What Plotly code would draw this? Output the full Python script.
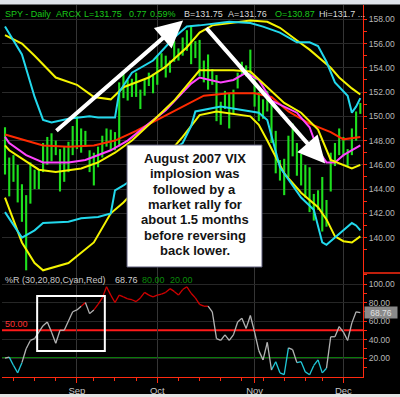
import plotly.graph_objects as go

W, H = 400, 397

# ---------------- data ----------------
month_idx = [17, 36, 59, 80]
month_lbl = ["Sep", "Oct", "Nov", "Dec"]
week_idx = [2, 7, 12, 17, 21, 26, 31, 36, 41, 46, 51, 56, 61, 66, 71, 75, 80]

bar_high = [149.1, 146.6, 146.8, 146.0, 144.4, 143.5, 146.2, 145.6, 145.6, 147.8,
            148.3, 148.6, 148.0, 147.3, 147.5, 147.9, 149.2, 150.0, 149.0, 148.8,
            147.2, 147.0, 147.5, 148.4, 149.0, 148.9, 148.7, 152.8, 153.6, 153.0,
            153.1, 153.6, 152.2, 153.0, 153.6, 153.5, 155.0, 155.2, 155.0, 154.6,
            156.2, 155.6, 156.5, 157.1, 157.5, 156.2, 156.3, 154.6, 155.1, 153.9,
            153.4, 151.2, 152.1, 151.9, 152.2, 153.6, 154.5, 154.2, 155.5, 153.4,
            152.0, 151.4, 152.1, 151.0, 148.8, 146.4, 146.5, 148.4, 149.4, 147.8,
            146.9, 146.0, 145.8, 143.6, 143.9, 145.0, 143.1, 147.0, 147.8, 149.0,
            148.3, 147.3, 149.0, 150.4, 151.1]
bar_low = [145.2, 143.4, 144.6, 142.9, 141.3, 137.3, 142.8, 144.0, 144.0, 145.4,
           146.0, 146.3, 146.8, 143.8, 144.6, 145.4, 146.8, 147.3, 147.0, 147.5,
           145.4, 144.3, 145.8, 146.6, 147.5, 147.2, 147.2, 147.5, 151.5, 151.3,
           151.6, 151.6, 150.6, 151.7, 152.5, 151.9, 152.6, 154.0, 153.2, 153.6,
           154.5, 154.6, 155.0, 155.4, 154.3, 154.8, 153.3, 152.8, 152.2, 152.6,
           149.6, 149.3, 150.6, 149.0, 150.2, 152.3, 153.4, 153.3, 153.0, 150.8,
           149.6, 149.8, 150.4, 147.8, 145.3, 144.7, 143.5, 145.0, 146.7, 145.1,
           144.3, 143.3, 142.1, 141.4, 142.3, 140.5, 140.9, 143.8, 145.9, 146.8,
           146.7, 145.9, 146.8, 148.0, 150.2]

cyan_up_i = [0, 4, 7, 9, 11, 15, 20, 22, 26, 27, 30, 35, 40, 43, 46, 53, 58, 61, 65, 69, 72, 74, 76, 78, 81, 82, 83, 84]
cyan_up_v = [157.4, 155.1, 151.6, 149.7, 149.5, 149.8, 150.0, 149.9, 149.9, 152.0, 153.6, 154.6, 156.5, 157.4,
             157.5, 157.8, 157.7, 157.4, 156.9, 156.1, 156.1, 155.8, 154.5, 152.8, 151.7, 150.3, 150.8, 151.5]
cyan_lo_i = [0, 4, 7, 9, 15, 18, 22, 25, 26, 28, 35, 42, 44, 45, 51, 56, 60, 62, 65, 70, 73, 75, 76, 78, 80, 82, 83, 84]
cyan_lo_v = [142.1, 140.0, 140.6, 141.2, 141.3, 141.6, 141.7, 142.0, 143.9, 144.3, 146.0, 147.8, 149.2, 150.4,
             150.8, 150.5, 150.3, 149.7, 145.8, 143.3, 142.3, 139.6, 139.4, 140.0, 140.6, 141.2, 141.0, 140.6]
yel_up_i = [0, 4, 7, 12, 17, 21, 25, 28, 34, 38, 43, 46, 49, 54, 58, 62, 65, 70, 72, 77, 79, 82, 84]
yel_up_v = [156.7, 156.0, 155.0, 153.2, 152.6, 151.6, 151.4, 152.4, 153.2, 154.1, 155.7, 156.9, 157.5, 157.7,
            157.9, 157.8, 157.3, 156.0, 155.5, 154.0, 153.2, 152.3, 151.8]
yel_lo_i = [0, 4, 7, 9, 15, 21, 25, 28, 35, 42, 46, 50, 58, 60, 62, 66, 70, 74, 76, 78, 80, 82, 84]
yel_lo_v = [143.3, 139.6, 137.9, 137.3, 137.9, 139.6, 142.0, 142.9, 145.5, 148.3, 150.1, 150.4, 150.0, 149.3,
            148.0, 145.3, 143.7, 142.5, 141.5, 140.1, 139.7, 139.6, 140.1]
mag_i = [0, 1, 5, 9, 15, 19, 25, 29, 34, 38, 44, 46, 51, 54, 57, 60, 63, 69, 72, 74, 76, 78, 80, 84]
mag_v = [148.3, 147.8, 146.8, 146.2, 146.2, 146.4, 147.2, 148.0, 149.4, 150.5, 152.7, 153.2, 152.8, 153.0,
         153.6, 153.0, 151.3, 150.3, 149.1, 147.2, 146.2, 146.2, 146.8, 147.6]
yma_i = [0, 1, 8, 12, 18, 22, 26, 30, 34, 40, 46, 54, 58, 62, 66, 70, 74, 77, 82, 84]
yma_v = [147.6, 147.2, 145.6, 145.4, 145.7, 146.2, 147.0, 148.0, 149.3, 151.3, 153.8, 153.8, 153.7, 152.4,
         151.1, 150.3, 148.9, 146.4, 145.7, 146.0]
red_i = [0, 5, 9, 15, 21, 26, 31, 37, 43, 47, 53, 59, 63, 67, 72, 77, 80, 84]
red_v = [148.5, 148.0, 147.6, 147.5, 147.6, 148.0, 148.8, 149.9, 151.0, 151.7, 151.9, 151.9, 151.6, 150.4,
         149.4, 148.7, 148.1, 148.3]

pct_r = [20, 21, 12, 4, 15, 30, 39, 41, 48, 55, 59, 48, 36, 50, 50, 60, 70, 72, 76, 80,
         68, 72, 78, 85, 97, 88, 80, 88, 86, 84, 83, 81, 85, 91, 88, 86, 88, 89, 91, 95,
         92, 88, 94, 97, 90, 85, 78, 76, 76, 70, 41, 39, 45, 39, 45, 59, 63, 52, 66, 48,
         28, 18, 37, 7, 16, 4, 2, 31, 29, 15, 16, 5, 2, 12, 18, 4, 9, 43, 43, 54,
         48, 39, 58, 70, 69]
pct_last = "68.76"

price_ticks = [140, 142, 144, 146, 148, 150, 152, 154, 156, 158]
pct_ticks = [20, 40, 60, 80, 100]

header = [("SPY - Daily", 3, "#19c819"), ("ARCX", 54, "#19c819"), ("L=131.75", 82, "#19c819"),
          ("0.77", 127, "#19c819"), ("0.59%", 148, "#19c819"), ("B=131.75", 182, "#d8d8d8"),
          ("A=131.76", 226, "#d8d8d8"), ("O=130.87", 273, "#19c819"), ("Hi=131.7 ...", 317, "#d8d8d8")]
note_lines = ["August 2007 VIX", "implosion was", "followed by a", "market rally for",
              "about 1.5 months", "before reversing", "back lower."]

# ---------------- styles / layout constants ----------------
FONT = "Liberation Sans, Arial, sans-serif"
RED = "#ff2a10"
X0, X1 = 2, 363          # plot left/right px
PY0, PY1 = 5, 273        # price panel top/bottom px
RY1 = 377                # %R bottom px


def px(x):
    return x / W


def py(y):
    return 1 - y / H


fig = go.Figure()

fig.add_trace(go.Bar(x=list(range(len(bar_high))), base=bar_low,
                     y=[h - l for h, l in zip(bar_high, bar_low)],
                     width=0.5, marker=dict(color="#1ee01e", line=dict(width=0)),
                     xaxis="x", yaxis="y", hoverinfo="skip"))

for xi, yv, col in [(red_i, red_v, "#ff2a00"), (mag_i, mag_v, "#ff44ff"), (yma_i, yma_v, "#f4f400"),
                    (yel_up_i, yel_up_v, "#f4f400"), (yel_lo_i, yel_lo_v, "#f4f400"),
                    (cyan_up_i, cyan_up_v, "#22d8ec"), (cyan_lo_i, cyan_lo_v, "#22d8ec")]:
    fig.add_trace(go.Scatter(x=xi, y=yv, mode="lines", line=dict(color=col, width=2),
                             xaxis="x", yaxis="y", hoverinfo="skip"))

# %R line, coloured by zone
seg = {"#d00000": ([], []), "#20c8d8": ([], []), "#b4b4b4": ([], [])}
for k in range(len(pct_r) - 1):
    a, b = pct_r[k], pct_r[k + 1]
    m = (a + b) / 2
    c = "#d00000" if m >= 75 else ("#20c8d8" if m <= 17 else "#b4b4b4")
    seg[c][0].extend([k, k + 1, None])
    seg[c][1].extend([a, b, None])
for c, (sx, sy) in seg.items():
    fig.add_trace(go.Scatter(x=sx, y=sy, mode="lines", line=dict(color=c, width=1.3),
                             xaxis="x", yaxis="y2", hoverinfo="skip"))

tickfont = dict(family=FONT, size=8.5, color="#b8b8b8")
fig.update_layout(
    width=W, height=H, margin=dict(l=0, r=0, t=0, b=0),
    paper_bgcolor="black", plot_bgcolor="black", showlegend=False,
    xaxis=dict(domain=[px(X0), px(X1)], range=[-0.71, 84.63], anchor="y2",
               tickvals=month_idx, ticktext=month_lbl, ticks="outside", ticklen=5,
               tickcolor=RED, showline=True, linecolor=RED, linewidth=1,
               showgrid=True, gridcolor="#353535", zeroline=False,
               tickfont=dict(family=FONT, size=9.5, color="#c8c8c8"),
               minor=dict(tickvals=week_idx, ticks="outside", ticklen=3, tickcolor=RED, showgrid=False)),
    yaxis=dict(domain=[1 - PY1 / H, 1 - PY0 / H], range=[137.08, 159.18], anchor="x", side="right",
               tickvals=price_ticks, tickformat=".2f", ticks="outside", ticklen=3, tickcolor=RED,
               showline=True, linecolor=RED, linewidth=1, showgrid=True, gridcolor="#2a2a2a",
               zeroline=False, tickfont=tickfont,
               minor=dict(tickvals=[t + 1 for t in price_ticks[:-1]] + [139], ticks="outside",
                          ticklen=3, tickcolor=RED, showgrid=False)),
    yaxis2=dict(domain=[1 - RY1 / H, 1 - PY1 / H], range=[-0.5, 111.9], anchor="x", side="right",
                tickvals=pct_ticks, tickformat=".2f", ticks="outside", ticklen=3, tickcolor=RED,
                showline=True, linecolor=RED, linewidth=1, showgrid=True, gridcolor="#262626",
                zeroline=False, tickfont=tickfont,
                minor=dict(tickvals=[10, 30, 50, 70, 90, 110], ticks="outside", ticklen=3,
                           tickcolor=RED, showgrid=False)),
)

shapes = [
    dict(type="rect", xref="paper", yref="paper", x0=0, x1=1, y0=py(4.5), y1=1,
         fillcolor="#dfe3ea", line=dict(width=0), layer="above"),
    dict(type="rect", xref="paper", yref="paper", x0=0, x1=1, y0=0, y1=py(394),
         fillcolor="#e4e4e4", line=dict(width=0), layer="above"),
    dict(type="line", xref="paper", yref="paper", x0=px(X1), x1=1, y0=py(PY1), y1=py(PY1),
         line=dict(color=RED, width=1.5)),
    dict(type="line", xref="paper", yref="y2", x0=px(X0), x1=px(X1), y0=80, y1=80,
         line=dict(color="#0a7a0a", width=1, dash="dot"), layer="below"),
    dict(type="line", xref="paper", yref="y2", x0=px(X0), x1=px(X1), y0=20, y1=20,
         line=dict(color="#0a7a0a", width=2), layer="below"),
    dict(type="line", xref="paper", yref="y2", x0=px(X0), x1=px(X1), y0=50, y1=50,
         line=dict(color="#ff1a1a", width=2), layer="below"),
    dict(type="rect", xref="x", yref="y2", x0=7.6, x1=23.6, y0=27.6, y1=87,
         line=dict(color="white", width=2), fillcolor="rgba(0,0,0,0)", layer="above"),
    dict(type="rect", xref="paper", yref="paper", x0=px(127), x1=px(262), y0=py(267), y1=py(145),
         fillcolor="white", line=dict(color="#5a5a78", width=1), layer="above"),
]
fig.update_layout(shapes=shapes)

ann = []
for txt, x, col in header:
    ann.append(dict(text=txt, x=px(x), y=py(14), xref="paper", yref="paper", xanchor="left",
                    yanchor="middle", showarrow=False, font=dict(family=FONT, size=9, color=col)))
for txt, x, col in [("%R (30,20,80,Cyan,Red)", 3, "#c8c8c8"), (pct_last, 113, "#d0d0d0"),
                    ("80.00", 140, "#0a8a0a"), ("20.00", 168, "#0a8a0a")]:
    ann.append(dict(text=txt, x=px(x), y=py(280), xref="paper", yref="paper", xanchor="left",
                    yanchor="middle", showarrow=False, font=dict(family=FONT, size=9, color=col)))
ann.append(dict(text="50.00", x=px(3), y=py(324), xref="paper", yref="paper", xanchor="left",
                yanchor="middle", showarrow=False, font=dict(family=FONT, size=9, color="#ff3030")))
ann.append(dict(text=pct_last, x=px(364), y=float(pct_last), xref="paper", yref="y2", xanchor="left",
                yanchor="middle", showarrow=False, bgcolor="#8a8a8a", width=32, height=11, borderpad=0,
                font=dict(family=FONT, size=8.5, color="#e0e0e0")))
line_y = [158.3, 173.6, 189.0, 204.4, 219.8, 235.2, 250.6]
for txt, yy in zip(note_lines, line_y):
    ann.append(dict(text="<b>" + txt + "</b>", x=px(194.5), y=py(yy), xref="paper", yref="paper",
                    xanchor="center", yanchor="middle", showarrow=False,
                    font=dict(family=FONT, size=13, color="#141414")))
# arrows (head, tail in data coords)
for hx, hy, tx, ty in [(42.1, 157.9, 11.8, 148.7), (75.7, 146.1, 47.3, 157.4)]:
    ann.append(dict(text="", x=hx, y=hy, ax=tx, ay=ty, xref="x", yref="y", axref="x", ayref="y",
                    showarrow=True, arrowhead=2, arrowsize=1.35, arrowwidth=4, arrowcolor="white",
                    standoff=0))
fig.update_layout(annotations=ann)

fig.write_html("out.html")
